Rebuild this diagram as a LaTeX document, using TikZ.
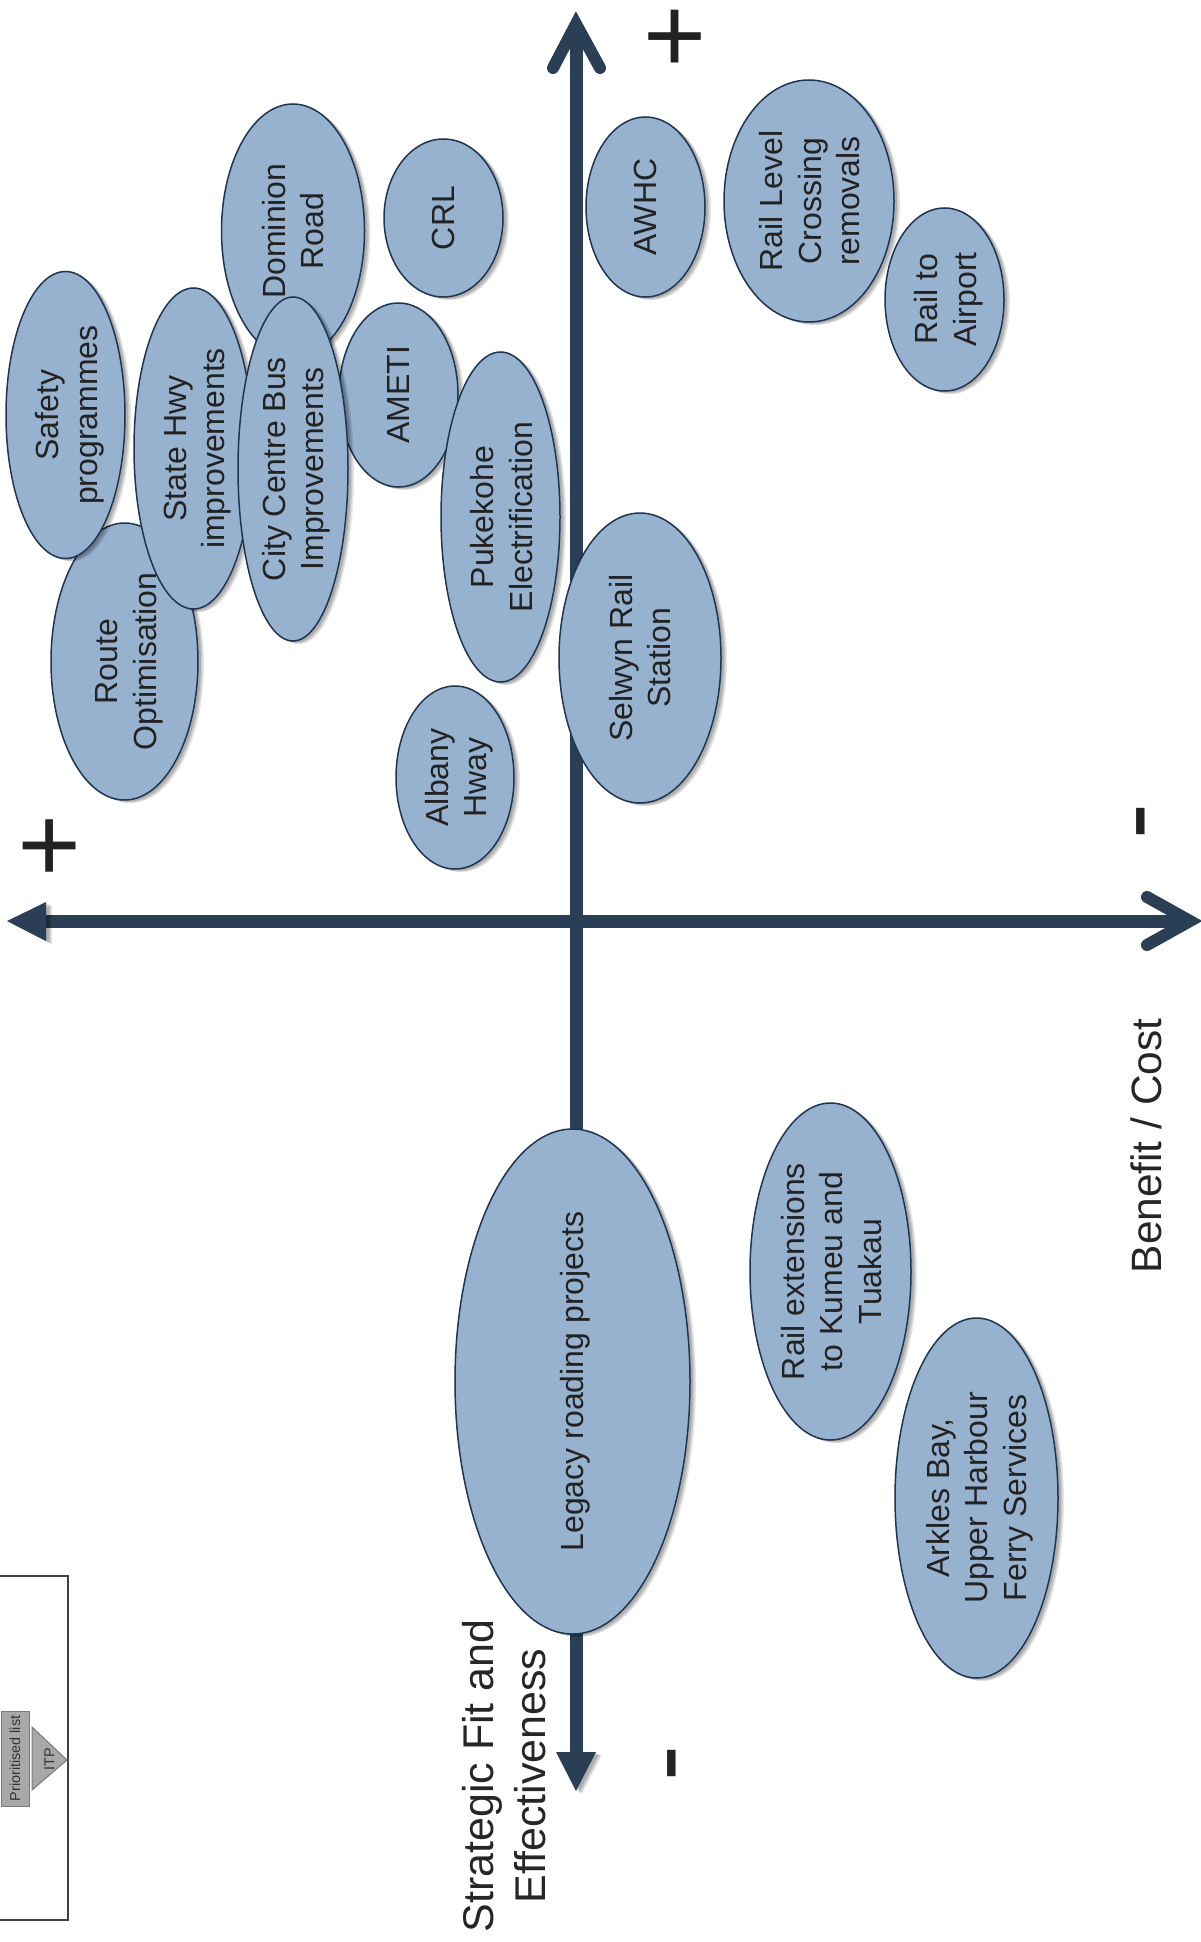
\documentclass[tikz,border=0pt]{standalone}
\usepackage{fontspec}
\setmainfont{Liberation Sans}
\usetikzlibrary{shapes.geometric}
\definecolor{bubfill}{HTML}{97B2CF}
\definecolor{bubline}{HTML}{1F3550}
\definecolor{axiscol}{HTML}{2A3F56}
\definecolor{inkcol}{HTML}{222222}
\definecolor{boxfill}{HTML}{A8A8A8}
\definecolor{boxline}{HTML}{7A7A7A}
\tikzset{
  softshadow/.style={
    preaction={draw=none,fill=black,opacity=.10,transform canvas={shift={(6pt,-3pt)}}},
    preaction={draw=none,fill=black,opacity=.12,transform canvas={shift={(4.5pt,-2.5pt)}}},
    preaction={draw=none,fill=black,opacity=.14,transform canvas={shift={(3pt,-1.5pt)}}}},
  linshadow/.style={
    preaction={draw=black,opacity=.10,transform canvas={shift={(5pt,-3pt)}}},
    preaction={draw=black,opacity=.12,transform canvas={shift={(3.5pt,-2pt)}}}},
  bub/.style={ellipse,draw=bubline,line width=1.5pt,fill=bubfill,inner sep=0pt,outer sep=0pt,softshadow},
  bubtext/.style={text=inkcol,rotate=90,align=center,inner sep=0pt,font=\fontsize{32pt}{38.5pt}\selectfont},
  axisline/.style={draw=axiscol,line width=13pt,linshadow},
  barb/.style={draw=axiscol,line width=12pt,line cap=round,miter limit=10,linshadow},
  axishead/.style={fill=axiscol,draw=none,softshadow},
  bigsign/.style={text=inkcol,inner sep=0pt,font=\fontsize{108pt}{108pt}\selectfont},
  axistitle/.style={text=black!85,inner sep=0pt,rotate=90,align=center,font=\fontsize{43pt}{52pt}\selectfont},
  smallbox/.style={draw=boxline,line width=1pt,fill=boxfill,inner sep=0pt,text=black!80,rotate=90},
}
% name, cx, cy, width, height, horizontal text offset, text
\newcommand{\bubble}[7]{%
  \node[bub,minimum width=#4pt,minimum height=#5pt] (#1) at (#2,#3) {};
  \node[bubtext] (#1-text) at ([xshift=#6pt]#1.center) {#7};}
\begin{document}
\begin{tikzpicture}[x=1pt,y=-1pt]
\useasboundingbox (0,0) rectangle (1200,1942);
% frame at lower left
\coordinate (fa) at (-2,1576); \coordinate (fb) at (68,1576);
\coordinate (fc) at (68,1920); \coordinate (fd) at (-2,1920);
\draw[draw=black!75,line width=1.6pt] (fa) -- (fb) -- (fc) -- (fd);
\node[smallbox,minimum width=95pt,minimum height=28pt,font=\fontsize{14.4pt}{16pt}\selectfont] (plist) at (15,1758.5) {Prioritised list};
\coordinate (ta) at (32,1727); \coordinate (tb) at (32,1790); \coordinate (tc) at (67,1760);
\draw[draw=boxline,line width=1pt,fill=boxfill] (ta) -- (tc) -- (tb) -- cycle;
\node[rotate=90,inner sep=0pt,text=black!80,font=\fontsize{14.4pt}{16pt}\selectfont] (itp) at (49.5,1759) {ITP};
% axes
\coordinate (vtop) at (576,30); \coordinate (vbot) at (576,1755);
\coordinate (hleft) at (44,921); \coordinate (hright) at (1190,921);
\draw[axisline] (vtop) -- (vbot);
\coordinate (v1) at (553,68); \coordinate (v2) at (576,24); \coordinate (v3) at (600,68);
\draw[barb] (v1) -- (v2) -- (v3);
\coordinate (v4) at (556,1752); \coordinate (v5) at (576,1791); \coordinate (v6) at (596,1752);
\path[axishead] (v4) -- (v5) -- (v6) -- cycle;
\draw[axisline] (hleft) -- (hright);
\coordinate (h1) at (1147,897); \coordinate (h2) at (1190,921); \coordinate (h3) at (1147,945);
\draw[barb] (h1) -- (h2) -- (h3);
\coordinate (h4) at (46,902); \coordinate (h5) at (7,921); \coordinate (h6) at (46,941);
\path[axishead] (h4) -- (h5) -- (h6) -- cycle;
% signs
\node[bigsign] (ptop) at (675,41.5) {+};
\node[bigsign,rotate=90] (pleft) at (54.5,846) {+};
\node[bigsign,rotate=90] (mbot) at (684,1763) {-};
\node[bigsign,rotate=90] (mright) at (1153,822) {-};
% titles
\node[axistitle] (tfit) at (504,1776) {Strategic Fit and\\Effectiveness};
\node[axistitle,font=\fontsize{42.4pt}{50pt}\selectfont] (tbc) at (1146,1146) {Benefit / Cost};
% bubbles
\bubble{route}{124.5}{661.5}{147}{277}{5}{Route\\Optimisation}
\bubble{safety}{65.5}{415}{119}{287}{4}{Safety\\programmes}
\bubble{state}{193.5}{448.5}{119}{321}{4}{State Hwy\\improvements}
\bubble{dominion}{293}{231}{143}{254}{0}{Dominion\\Road}
\bubble{crl}{443.5}{218}{119}{158}{0}{CRL}
\bubble{ameti}{398.5}{395}{119}{184}{0}{AMETI}
\bubble{city}{293}{469}{110}{344}{3}{City Centre Bus\\Improvements}
\bubble{puke}{500.5}{517}{119}{330}{1}{Pukekohe\\Electrification}
\bubble{albany}{455}{777.5}{118}{183}{4}{Albany\\Hway}
\bubble{awhc}{645.5}{207}{119}{180}{0}{AWHC}
\bubble{level}{809}{201}{170}{242}{1}{Rail Level\\Crossing\\removals}
\bubble{airport}{944.5}{299.5}{119}{183}{4}{Rail to\\Airport}
\bubble{selwyn}{640}{658}{162}{290}{0}{Selwyn Rail\\Station}
\bubble{legacy}{572.5}{1381.5}{235}{505}{3}{Legacy roading projects}
\bubble{ext}{830.5}{1271.5}{161}{337}{1}{Rail extensions\\to Kumeu and\\Tuakau}
\bubble{arkles}{976.5}{1498}{163}{360}{3}{Arkles Bay,\\Upper Harbour\\Ferry Services}
\end{tikzpicture}
\end{document}
